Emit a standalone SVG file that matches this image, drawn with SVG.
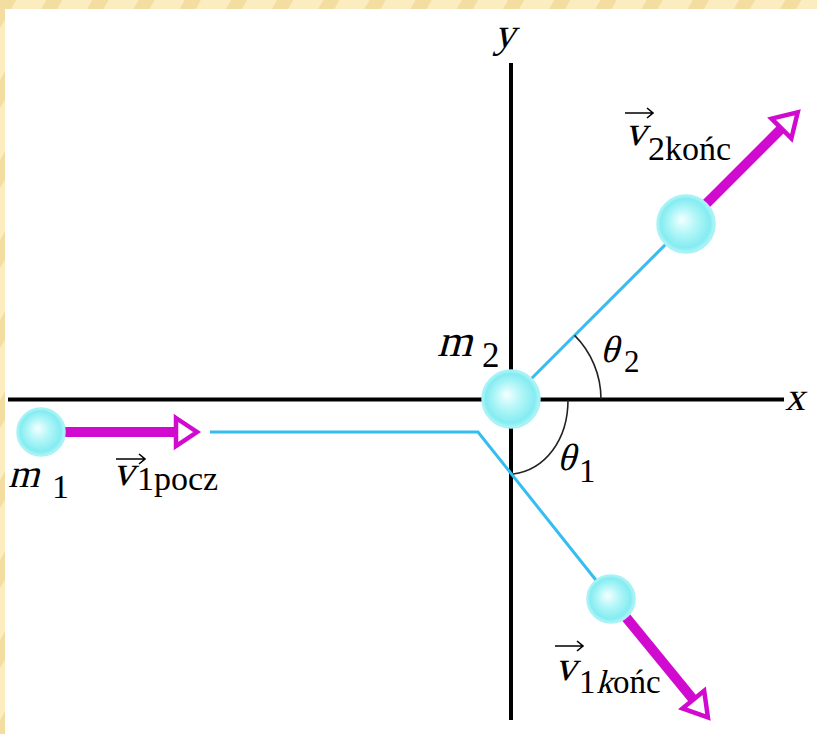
<svg xmlns="http://www.w3.org/2000/svg" width="817" height="734" viewBox="0 0 817 734">
<defs>
<pattern id="stripes" width="40" height="40" patternUnits="userSpaceOnUse" patternTransform="rotate(30)">
<rect width="40" height="40" fill="#fbedc0"/>
<rect width="14" height="40" fill="#f3dda0"/>
</pattern>
<radialGradient id="ball" cx="0.5" cy="0.5" r="0.5" fx="0.42" fy="0.42">
<stop offset="0" stop-color="#f4ffff"/>
<stop offset="0.45" stop-color="#b2f6f8"/>
<stop offset="0.85" stop-color="#84ecf1"/>
<stop offset="1" stop-color="#b6f5f8"/>
</radialGradient>
<style>
.axis{stroke:#000;stroke-width:4;fill:none}
.track{stroke:#33bdf0;stroke-width:3;fill:none}
.shaft{stroke:#d10ad0;stroke-width:10;fill:none}
.head{stroke:#d10ad0;stroke-width:4.5;fill:#fff;stroke-linejoin:miter}
.arc{stroke:#222;stroke-width:1.6;fill:none}
.vec{stroke:#000;stroke-width:1.6;fill:none}
.ball{fill:url(#ball);stroke:#a6f3f6;stroke-width:1.5}
</style>
</defs>
<rect width="817" height="734" fill="#fff"/>
<rect x="0" y="0" width="817" height="9" fill="url(#stripes)"/>
<rect x="0" y="0" width="5" height="734" fill="url(#stripes)"/>

<g font-family="Liberation Serif, Times New Roman, serif" fill="#000">
<g id="axes">
<line class="axis" x1="8" y1="399.5" x2="784" y2="399.5"/>
<line class="axis" x1="511" y1="63" x2="511" y2="720"/>
<text transform="translate(494,47) skewX(-15)" font-size="42">y</text>
<text transform="translate(785,410) skewX(-12)" font-size="40">x</text>
</g>

<g id="connectors">
<polyline class="track" points="210,432 478,432 611,599"/>
<line class="track" x1="511" y1="399" x2="686" y2="224"/>
<path class="arc" d="M601,399 A90,90 0 0 0 574.6,335.4"/>
<path class="arc" d="M568,400 C568,440 545,470 513,474"/>
<g id="arrow-v1pocz">
<line class="shaft" x1="41" y1="432" x2="176" y2="432"/>
<path class="head" d="M176,418 L197,432 L176,446 Z"/>
</g>
<g id="arrow-v2konc" transform="translate(686,224) rotate(-45)">
<line class="shaft" x1="0" y1="0" x2="135" y2="0"/>
<path class="head" d="M135,-14 L158,0 L135,14 Z"/>
</g>
<g id="arrow-v1konc" transform="translate(611,599) rotate(50.7)">
<line class="shaft" x1="0" y1="0" x2="130" y2="0"/>
<path class="head" d="M130,-14 L153,0 L130,14 Z"/>
</g>
</g>

<g id="m1">
<circle class="ball" cx="41" cy="432" r="24"/>
<text transform="translate(8,487) skewX(-15)" font-size="40">m</text>
<text x="52" y="498" font-size="34">1</text>
</g>
<g id="m2">
<circle class="ball" cx="511" cy="399" r="29"/>
<text transform="translate(437,356) skewX(-15)" font-size="45">m</text>
<text x="482" y="367" font-size="35">2</text>
</g>
<g id="m2-after">
<circle class="ball" cx="686" cy="224" r="29"/>
</g>
<g id="m1-after">
<circle class="ball" cx="611" cy="599" r="24"/>
</g>

<g id="labels">
<g id="theta2">
<text transform="translate(600,362) skewX(-15)" font-size="38">θ</text>
<text x="624" y="372" font-size="31">2</text>
</g>
<g id="theta1">
<text transform="translate(557,470) skewX(-15)" font-size="38">θ</text>
<text x="579" y="482" font-size="33">1</text>
</g>
<g id="v1pocz">
<path class="vec" d="M116,459 H145 M139,454 L145,459 L139,464"/>
<text transform="translate(113,485) skewX(-15)" font-size="42">v</text>
<text x="137" y="490" font-size="34">1pocz</text>
</g>
<g id="v2konc">
<path class="vec" d="M625,113 H653 M647,108 L653,113 L647,118"/>
<text transform="translate(625,145) skewX(-15)" font-size="42">v</text>
<text x="648" y="160" font-size="34">2końc</text>
</g>
<g id="v1konc">
<path class="vec" d="M555,646 H583 M577,641 L583,646 L577,651"/>
<text transform="translate(555,680) skewX(-15)" font-size="42">v</text>
<text x="579" y="693" font-size="33">1</text>
<text transform="translate(596,693) skewX(-15)" font-size="33">k</text>
<text x="613" y="693" font-size="33">ońc</text>
</g>
</g>
</g>
</svg>
